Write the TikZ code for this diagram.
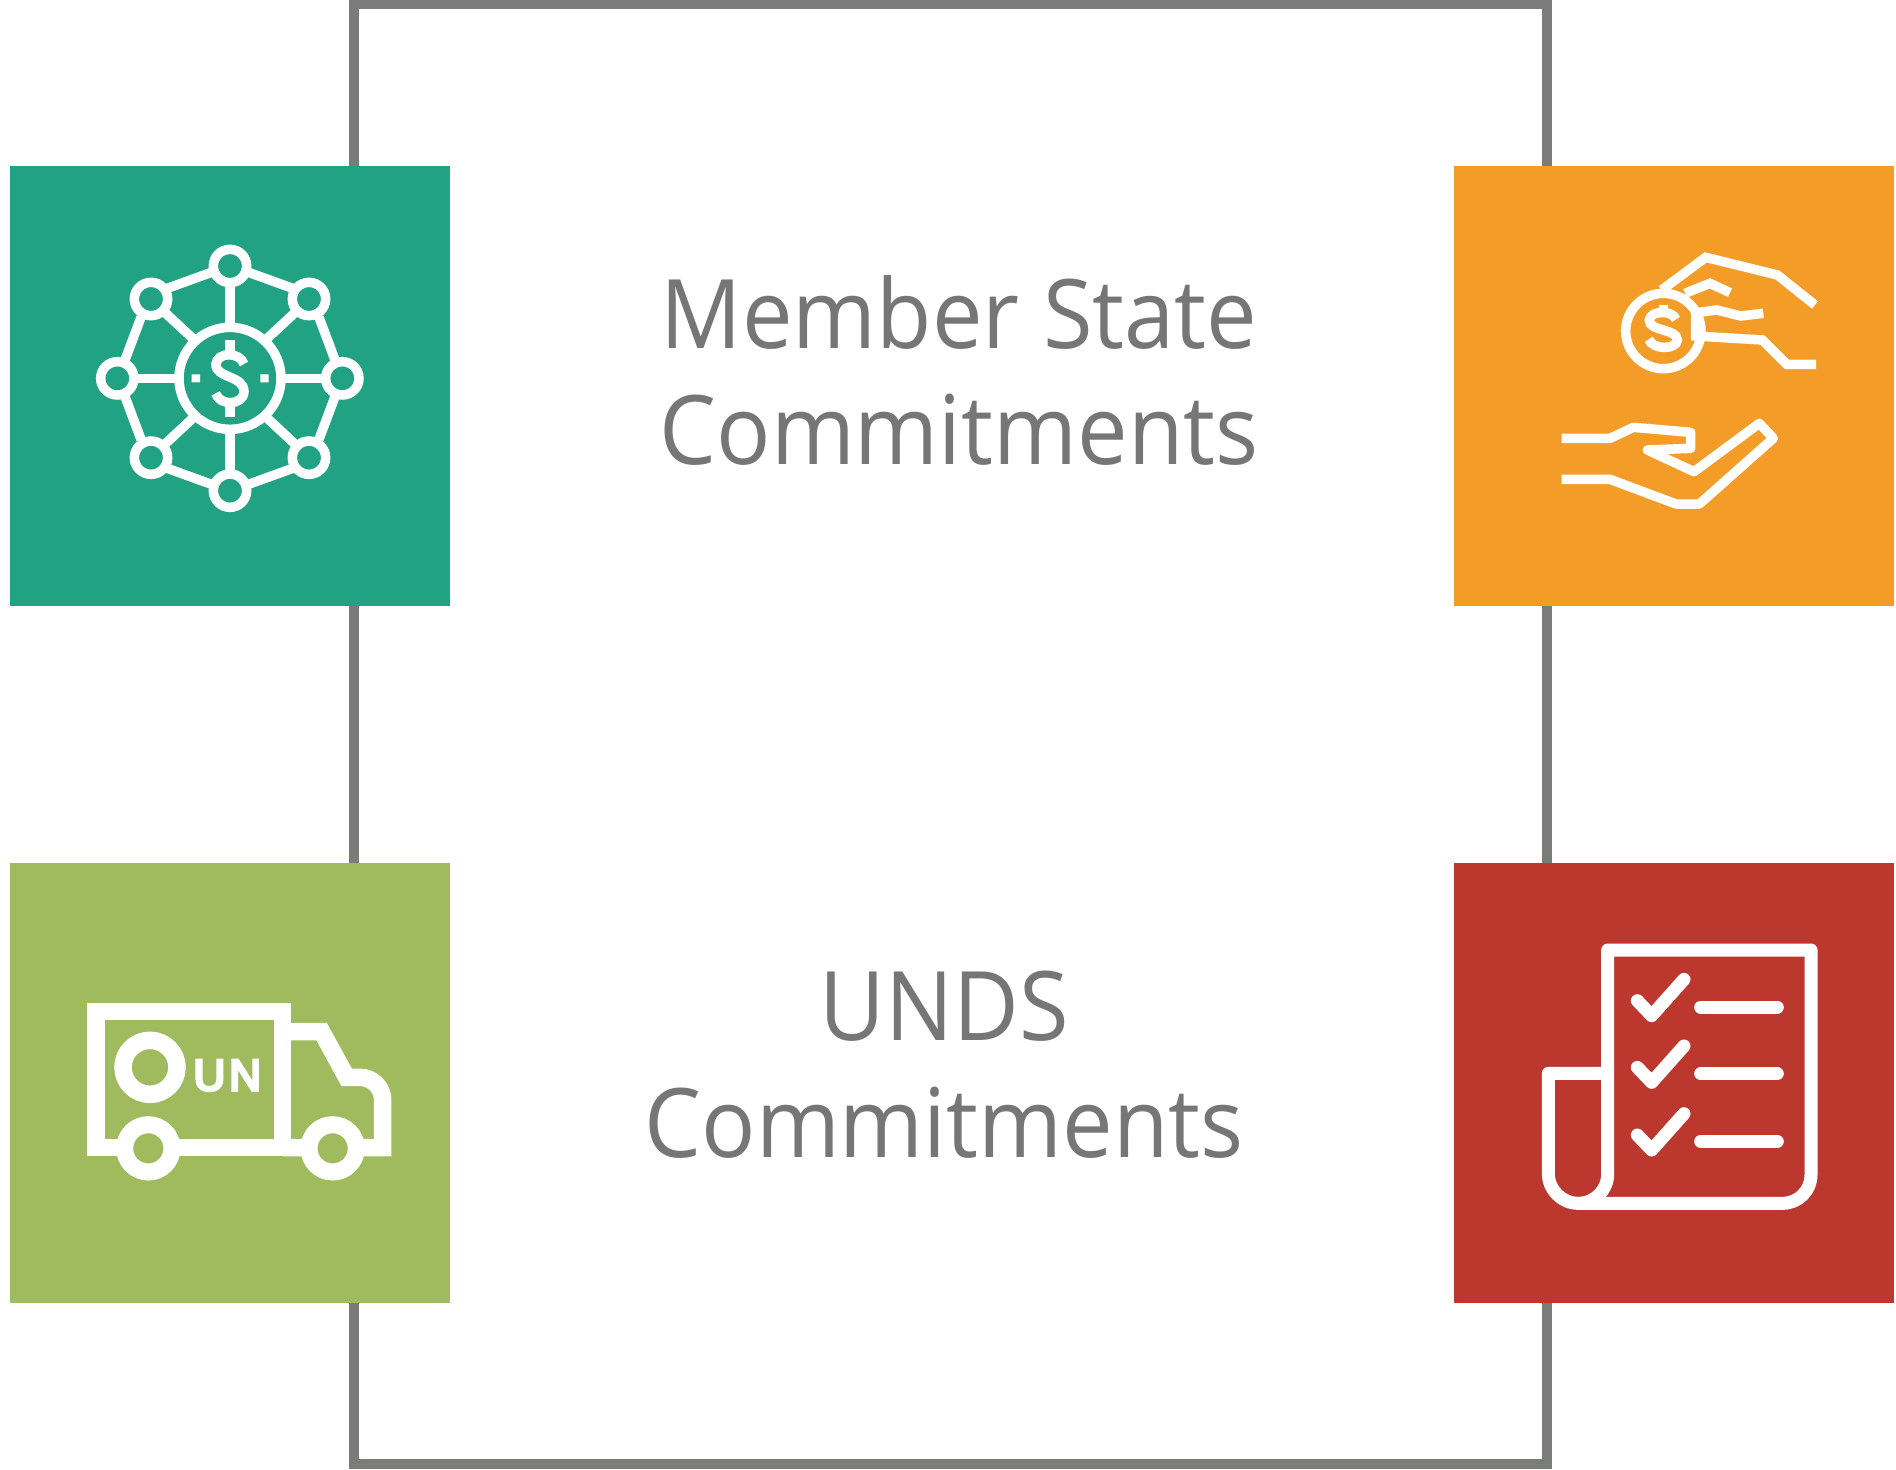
\documentclass[tikz,border=0pt]{standalone}
\usepackage{fontspec}
\setmainfont[FakeStretch=0.94]{Open Sans}
\newfontfamily\unfont{Liberation Sans}
\definecolor{framegray}{HTML}{7A7C7A}
\definecolor{textgray}{HTML}{767676}
\definecolor{tealbox}{HTML}{20A283}
\definecolor{orangebox}{HTML}{F39C28}
\definecolor{limebox}{HTML}{9FBB5E}
\definecolor{redbox}{HTML}{BC382E}
\tikzset{
  tile/.style={minimum width=440pt,minimum height=440pt,inner sep=0pt,outer sep=0pt,anchor=north west},
  label/.style={text=textgray,anchor=base,inner sep=0pt,font=\fontsize{96}{96}\selectfont},
  icon/.style={draw=white,line width=9.5pt,line join=miter},
}
\begin{document}
\begin{tikzpicture}[x=1pt,y=-1pt]
\useasboundingbox (0,0) rectangle (1896,1470);
\fill[white] (0,0) rectangle (1896,1470);
\node[draw=framegray,line width=10pt,minimum width=1193pt,minimum height=1460pt,inner sep=0pt,outer sep=0pt,anchor=north west] (frame) at (354,4) {};
\node[tile,fill=tealbox] (a) at (10,166) {};
\node[tile,fill=orangebox] (b) at (1454,166) {};
\node[tile,fill=limebox] (c) at (10,863) {};
\node[tile,fill=redbox] (d) at (1454,863) {};
\node[label] (t1) at (959,348) {Member State};
\node[label] (t2) at (959,464) {Commitments};
\node[label] (t3) at (944,1040) {UNDS};
\node[label] (t4) at (944,1157) {Commitments};
% network icon
\begin{scope}[shift={(80,230)},scale=1/3,icon]
\draw (450,445) circle (153);
\foreach \p/\q in {450/108,213/207,687/207,112/445,787/445,213/683,687/683,450/782}{
  \draw (\p,\q) circle (50);
}
\draw (450,160)--(450,290) (450,600)--(450,730) (165,445)--(295,445) (605,445)--(735,445);
\draw (252,245)--(338,325) (648,245)--(562,325) (252,645)--(338,565) (648,645)--(562,565);
\draw (262,175)--(400,125) (638,175)--(500,125) (262,715)--(400,765) (638,715)--(500,765);
\draw (183,262)--(135,390) (717,262)--(765,390) (183,628)--(135,500) (717,628)--(765,500);
\draw (450,330)--(450,365) (450,525)--(450,560);
\draw (492,402) .. controls (480,365) and (412,365) .. (408,402) .. controls (405,445) and (492,435) .. (492,485) .. controls (490,528) and (418,528) .. (407,490);
\fill[white] (335,433) rectangle (360,457) (541,433) rectangle (566,457);
\end{scope}
% hands icon
\begin{scope}[shift={(1530,230)},scale=1/3,icon]
\draw (395,180)--(527,82)--(742,135)--(855,225);
\draw (465,190)--(540,160)--(600,188);
\draw (400,303) circle (113);
\draw (500,248)--(560,240)--(632,258)--(700,250);
\draw (497,240)--(497,318)--(697,330)--(770,403)--(858,403);
\draw (438,268) .. controls (428,240) and (362,240) .. (358,270) .. controls (356,305) and (442,295) .. (442,330) .. controls (440,360) and (368,360) .. (356,328);
\draw (400,226)--(400,245) (400,345)--(400,360);
\draw[line join=round] (95,625)--(240,625)--(310,592)--(482,607)--(482,655)--(352,660)--(492,725)--(688,580)--(730,625)--(508,822)--(438,822)--(240,748)--(95,748);
\end{scope}
% truck icon
\begin{scope}[shift={(70,980)},scale=1/3]
\draw[draw=white,line width=17.5pt] (78,95) rectangle (637,503);
\draw[draw=white,line width=17.5pt] (637,155)--(755,155)--(830,292)--(870,292) arc[start angle=-90,end angle=0,radius=68]--(938,503)--(637,503);
\draw[draw=white,line width=17pt,fill=limebox] (235,505) circle (71) (788,505) circle (71);
\draw[draw=white,line width=17.5pt] (240,262) circle (81);
\node[text=white,inner sep=0pt,anchor=base,font=\unfont\fontsize{44}{44}\selectfont] (un) at (472,331) {\special{pdf: code q 1 1 1 RG 2 Tr 3 w}U\kern4pt N\special{pdf: code Q}};
\end{scope}
% checklist icon
\begin{scope}[shift={(1530,930)},scale=1/3]
\begin{scope}[draw=white,line width=13pt,line join=round,line cap=round]
\draw (233,730)--(233,60)--(843,60)--(843,735) arc[start angle=0,end angle=90,radius=85]--(145,820) arc[start angle=90,end angle=180,radius=90]--(55,430)--(233,430);
\draw (145,820) arc[start angle=90,end angle=0,radius=88];
\foreach \dy in {0,200,403}{
  \draw[yshift=-\dy pt] (322,212)--(365,257)--(462,148);
  \draw[yshift=-\dy pt] (512,231)--(742,231);
}
\end{scope}
\end{scope}
\end{tikzpicture}
\end{document}
